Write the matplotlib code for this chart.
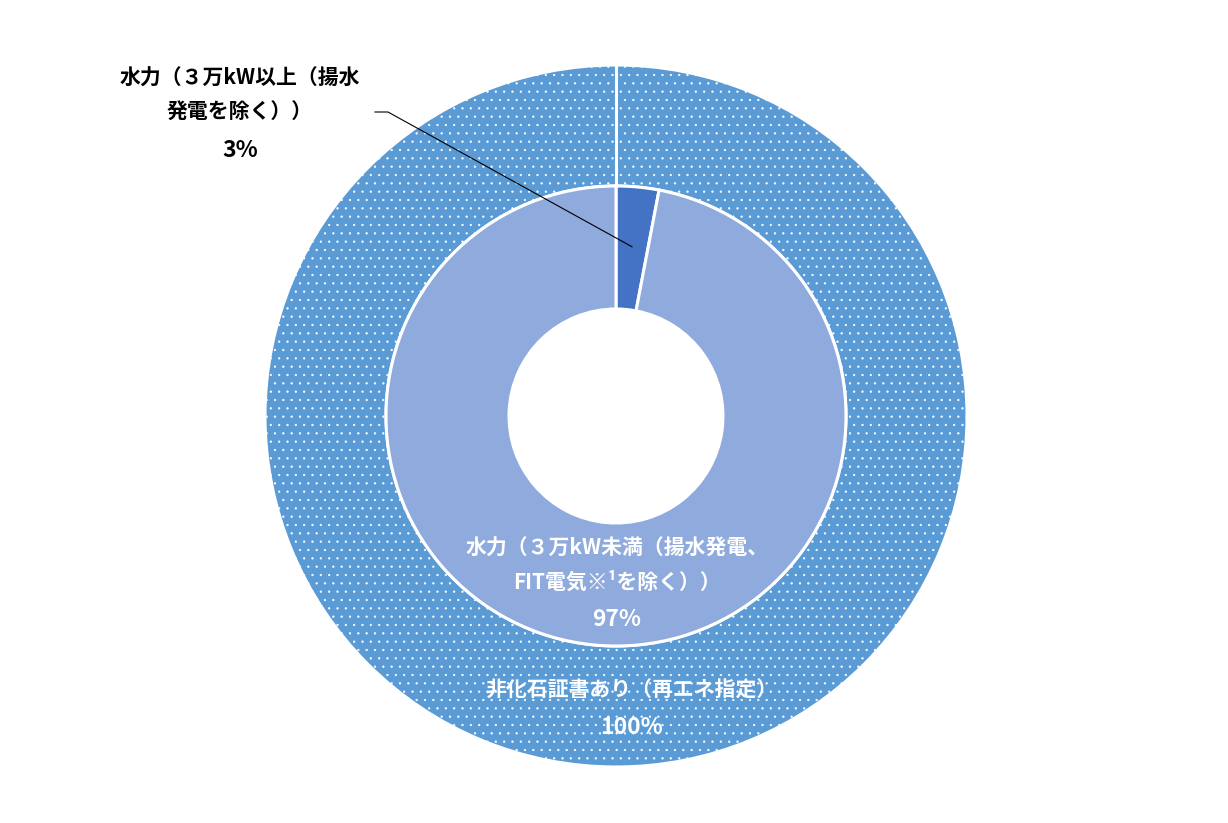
import numpy as np
import matplotlib
matplotlib.use("Agg")
import matplotlib.pyplot as plt

plt.rcParams['font.family'] = ['Noto Sans CJK JP', 'DejaVu Sans']
plt.rcParams['hatch.color'] = 'white'
plt.rcParams['hatch.linewidth'] = 0.4

# -----------------------------
# Data
# -----------------------------
outer_labels = ["非化石証書あり（再エネ指定）"]
outer_values = [100]
outer_colors = ["#5B9BD5"]

inner_labels = ["水力（３万kW以上（揚水\n発電を除く））",
                "水力（３万kW未満（揚水発電、\nFIT電気※¹を除く））"]
inner_values = [3, 97]
inner_colors = ["#4472C4", "#8FAADC"]

# -----------------------------
# Figure (pixel coordinates, y up)
# -----------------------------
W, H = 1228, 823
fig = plt.figure(figsize=(W / 100, H / 100), dpi=100)
ax = fig.add_axes([0, 0, 1, 1])

cx, cy = 616, H - 416
r_out, r_mid, r_in = 351, 230, 107

outer_wedges, _ = ax.pie(outer_values, radius=r_out, center=(cx, cy),
                         colors=outer_colors, startangle=90, counterclock=False,
                         wedgeprops=dict(width=r_out - r_mid, edgecolor='white',
                                         linewidth=2.2, hatch='..'),
                         frame=True)
inner_wedges, _ = ax.pie(inner_values, radius=r_mid, center=(cx, cy),
                         colors=inner_colors, startangle=90, counterclock=False,
                         wedgeprops=dict(width=r_mid - r_in, edgecolor='white',
                                         linewidth=2.2),
                         frame=True)

# white separator where the full outer ring starts
for w in outer_wedges:
    a = np.deg2rad(w.theta2)
    ax.plot([cx + r_mid * np.cos(a), cx + r_out * np.cos(a)],
            [cy + r_mid * np.sin(a), cy + r_out * np.sin(a)],
            color='white', linewidth=2.2)

ax.set_xlim(0, W)
ax.set_ylim(0, H)
ax.set_aspect('equal')
ax.axis('off')


def label(x, y_top, text, pct, color):
    # draw each line with a fixed pixel step, percentage a bit bigger
    lines = text.split("\n")
    for i, ln in enumerate(lines):
        ax.text(x, H - (y_top + 34 * i), ln, color=color, fontsize=15,
                fontweight='bold', ha='center', va='center')
    ax.text(x, H - (y_top + 34 * len(lines) + 4), f"{pct}%", color=color,
            fontsize=16.5, fontweight='bold', ha='center', va='center')


label(240, 78, inner_labels[0], inner_values[0], 'black')
label(617, 548, inner_labels[1], inner_values[1], 'white')
label(632, 690, outer_labels[0], outer_values[0], 'white')

# leader line for the small slice
w = inner_wedges[0]
mid = np.deg2rad((w.theta1 + w.theta2) / 2)
px = cx + 170 * np.cos(mid)
py = cy + 170 * np.sin(mid)
ax.plot([375, 388, px], [H - 112, H - 112, py], color='black', linewidth=0.8)

fig.savefig("out.png", dpi=100)
